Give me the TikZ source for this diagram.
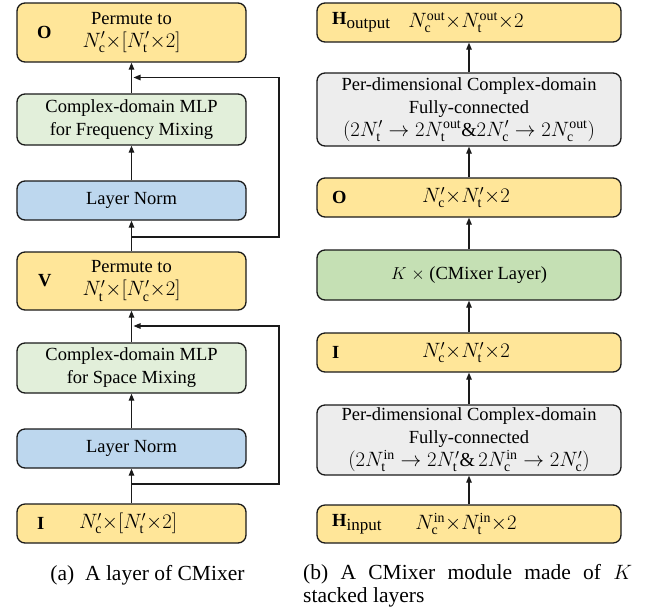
\documentclass[tikz,border=0pt]{standalone}
\usepackage{fontspec}
\setmainfont{Liberation Serif}
\usetikzlibrary{arrows.meta}
\definecolor{cYellow}{HTML}{FFE699}
\definecolor{cMint}{HTML}{E2EFDA}
\definecolor{cBlue}{HTML}{BDD7EE}
\definecolor{cGrey}{HTML}{EDEDED}
\definecolor{cGreen}{HTML}{C5E0B4}
\definecolor{cLine}{HTML}{1A1A1A}
\newcommand{\boxfont}{\fontsize{18.5}{23}\selectfont}
\newcommand{\capfont}{\fontsize{21.5}{23}\selectfont}
\newcommand{\subword}[1]{\raisebox{-4pt}{\normalfont\fontsize{17}{17}\selectfont #1}}
\newcommand{\Nd}[2]{N^{#1}_{\mathrm{#2}}}
\newcommand{\mth}[1]{{\fontsize{19.8}{23}\selectfont$#1$}}

\begin{document}
\begin{tikzpicture}[x=1pt,y=-1pt,
  blk/.style={draw=cLine, line width=1.3pt, rounded corners=8pt, inner sep=0pt,
              align=center, font=\boxfont, text=black},
  narrow/.style={blk, minimum width=229pt},
  wide/.style={blk, minimum width=304pt},
  lbl/.style={font=\boxfont\bfseries, inner sep=0pt, anchor=west},
  dims/.style={font=\boxfont, inner sep=0pt},
  arr/.style={draw=cLine, line width=1.2pt, -{Triangle[length=7pt,width=5.5pt]}},
  wire/.style={draw=cLine, line width=1.2pt}
]
\useasboundingbox (0,0) rectangle (647,611);

% ---------------- (a) one CMixer layer ----------------
\node[narrow, fill=cYellow, minimum height=39pt] (Ia) at (131.5,523.5) {};
\node[lbl] (IaL) at (37,523.5) {I};
\node[dims] (IaD) at (128,523.5) {\mth{\Nd{\prime}{c}{\times}[\Nd{\prime}{t}{\times}2]}};

\node[narrow, fill=cBlue, minimum height=39pt] (ln1) at (131.5,448.5) {Layer Norm};
\node[narrow, fill=cMint, minimum height=50pt] (mlp1) at (131.5,368)
  {Complex-domain MLP\\for Space Mixing};

\node[narrow, fill=cYellow, minimum height=58pt] (Va) at (131.5,281)
  {Permute to\\\mth{\Nd{\prime}{t}{\times}[\Nd{\prime}{c}{\times}2]}};
\node[lbl] (VaL) at (38,281) {V};

\node[narrow, fill=cBlue, minimum height=39pt] (ln2) at (131.5,200.5) {Layer Norm};
\node[narrow, fill=cMint, minimum height=51pt] (mlp2) at (131.5,119.5)
  {Complex-domain MLP\\for Frequency Mixing};

\node[narrow, fill=cYellow, minimum height=59pt] (Oa) at (131.5,32.5)
  {Permute to\\\mth{\Nd{\prime}{c}{\times}[\Nd{\prime}{t}{\times}2]}};
\node[lbl] (OaL) at (37,32.5) {O};

% main path with residual branches
\coordinate (j1) at (131.5,484);
\coordinate (s1) at (279,484);
\coordinate (t1) at (279,326);
\coordinate (m1) at (133.5,326);
\draw[wire] (Ia.north) -- (j1);
\draw[arr] (j1) -- (ln1.south);
\draw[arr] (ln1.north) -- (mlp1.south);
\draw[arr] (mlp1.north) -- (Va.south);
\draw[arr] (j1) -- (s1) -- (t1) -- (m1);

\coordinate (j2) at (131.5,237);
\coordinate (s2) at (279,237);
\coordinate (t2) at (279,77.5);
\coordinate (m2) at (133.5,77.5);
\draw[wire] (Va.north) -- (j2);
\draw[arr] (j2) -- (ln2.south);
\draw[arr] (ln2.north) -- (mlp2.south);
\draw[arr] (mlp2.north) -- (Oa.south);
\draw[arr] (j2) -- (s2) -- (t2) -- (m2);

% ---------------- (b) stacked CMixer module ----------------
\node[wide, fill=cYellow, minimum height=38pt] (Hin) at (469,524) {};
\node[lbl] (HinL) at (332,524) {H\subword{input}};
\node[dims] (HinD) at (466,524) {\mth{\Nd{\mathrm{in}}{c}{\times}\Nd{\mathrm{in}}{t}{\times}2}};

\node[wide, fill=cGrey, minimum height=70pt] (fc1) at (469,440)
  {Per-dimensional Complex-domain\\Fully-connected\\
   \mth{(2\Nd{\mathrm{in}}{t}\rightarrow 2\Nd{\prime}{t}\&\,2\Nd{\mathrm{in}}{c}\rightarrow 2\Nd{\prime}{c})}};

\node[wide, fill=cYellow, minimum height=39pt] (Ib) at (469,352.5) {};
\node[lbl] (IbL) at (332,352.5) {I};
\node[dims] (IbD) at (466,352.5) {\mth{\Nd{\prime}{c}{\times}\Nd{\prime}{t}{\times}2}};

\node[wide, fill=cGreen, minimum height=50pt] (mix) at (469,275) {$K$ $\times$ (CMixer Layer)};

\node[wide, fill=cYellow, minimum height=39pt] (Ob) at (469,197.5) {};
\node[lbl] (ObL) at (332,197.5) {O};
\node[dims] (ObD) at (466,197.5) {\mth{\Nd{\prime}{c}{\times}\Nd{\prime}{t}{\times}2}};

\node[wide, fill=cGrey, minimum height=73pt] (fc2) at (469,109.5)
  {Per-dimensional Complex-domain\\Fully-connected\\
   \mth{(2\Nd{\prime}{t}\rightarrow 2\Nd{\mathrm{out}}{t}\&2\Nd{\prime}{c}\rightarrow 2\Nd{\mathrm{out}}{c})}};

\node[wide, fill=cYellow, minimum height=39pt] (Hout) at (469,22.5) {};
\node[lbl] (HoutL) at (332,22.5) {H\subword{output}};
\node[dims] (HoutD) at (466,22.5) {\mth{\Nd{\mathrm{out}}{c}{\times}\Nd{\mathrm{out}}{t}{\times}2}};

\draw[arr] (Hin.north) -- (fc1.south);
\draw[arr] (fc1.north) -- (Ib.south);
\draw[arr] (Ib.north) -- (mix.south);
\draw[arr] (mix.north) -- (Ob.south);
\draw[arr] (Ob.north) -- (fc2.south);
\draw[arr] (fc2.north) -- (Hout.south);

% ---------------- captions ----------------
\node[font=\capfont, inner sep=0pt, anchor=base] (capA) at (147.5,580) {(a)\ \ A layer of CMixer};
\node[font=\capfont, inner sep=0pt, anchor=north west, text width=329pt, align=justify] (capB) at (303,564.5)
  {(b)\ A CMixer module made of $K$\linebreak stacked layers};
\end{tikzpicture}
\end{document}
